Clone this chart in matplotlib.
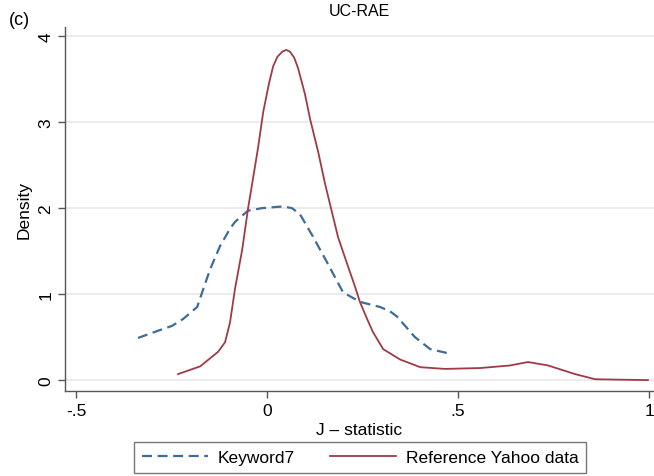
import numpy as np
import matplotlib.pyplot as plt

plt.rcParams['font.family'] = ['Liberation Sans', 'DejaVu Sans']

# density curves
kw_x = [-0.338, -0.288, -0.249, -0.220, -0.183, -0.170, -0.149, -0.123, -0.097, -0.084,
        -0.050, -0.013, 0.042, 0.065, 0.086, 0.120, 0.157, 0.199, 0.243, 0.296,
        0.322, 0.340, 0.387, 0.427, 0.476]
kw_y = [0.49, 0.57, 0.63, 0.71, 0.85, 1.02, 1.29, 1.56, 1.76, 1.84,
        1.97, 2.00, 2.02, 2.00, 1.93, 1.67, 1.37, 1.02, 0.91, 0.85,
        0.80, 0.74, 0.50, 0.36, 0.31]

ref_x = [-0.233, -0.175, -0.128, -0.110, -0.097, -0.084, -0.065, -0.050, -0.024, -0.010,
         0.005, 0.016, 0.027, 0.040, 0.050, 0.060, 0.071, 0.081, 0.099, 0.113,
         0.134, 0.152, 0.170, 0.186, 0.209, 0.230, 0.243, 0.262, 0.277, 0.304,
         0.348, 0.401, 0.466, 0.558, 0.636, 0.683, 0.736, 0.806, 0.859, 0.924, 0.997]
ref_y = [0.07, 0.16, 0.33, 0.44, 0.67, 1.06, 1.52, 1.99, 2.69, 3.12,
         3.45, 3.65, 3.76, 3.82, 3.84, 3.82, 3.75, 3.63, 3.33, 3.03,
         2.65, 2.28, 1.95, 1.66, 1.36, 1.09, 0.91, 0.71, 0.56, 0.36,
         0.24, 0.15, 0.13, 0.14, 0.17, 0.21, 0.17, 0.07, 0.01, 0.005, 0.0]

xticks = [-0.5, 0, 0.5, 1]
xtick_labels = ['-.5', '0', '.5', '1']
yticks = [0, 1, 2, 3, 4]

fig = plt.figure(figsize=(6.54, 4.77), dpi=100)
ax = fig.add_axes([0.0994, 0.178, 0.9006, 0.763])

ax.plot(kw_x, kw_y, color='#3f6c97', lw=1.6, dashes=(4.5, 2.5), label='Keyword7')
ax.plot(ref_x, ref_y, color='#a03a46', lw=1.3, label='Reference Yahoo data')

ax.set_xlim(-0.529, 1.013)
ax.set_ylim(-0.128, 4.105)
ax.set_xticks(xticks)
ax.set_xticklabels(xtick_labels)
ax.set_yticks(yticks)
ax.set_yticklabels([str(v) for v in yticks], rotation=90, va='center')
ax.grid(axis='y', color='#e8e8e8', lw=1.2)
ax.set_axisbelow(True)

for s in ['top', 'right']:
    ax.spines[s].set_visible(False)
for s in ['left', 'bottom']:
    ax.spines[s].set_color('#555555')
    ax.spines[s].set_linewidth(1.0)
ax.tick_params(colors='#555555', labelcolor='black', labelsize=12.5, length=5, width=1)

ax.set_xlabel('J \u2013 statistic', fontsize=12.5, labelpad=3)
ax.set_ylabel('Density', fontsize=12.5, labelpad=5)

fig.text(0.55, 0.975, 'UC-RAE', ha='center', va='center', fontsize=11.5)
fig.text(0.03, 0.957, '(c)', ha='center', va='center', fontsize=13)

leg = fig.legend(loc='upper center', bbox_to_anchor=(0.551, 0.071), ncol=2,
                 fontsize=12.5, frameon=True, fancybox=False, handlelength=3.8,
                 handletextpad=0.57, columnspacing=2.0, borderpad=0.45,
                 borderaxespad=0)
leg.get_frame().set_edgecolor('#555555')
leg.get_frame().set_linewidth(1.0)

fig.savefig('out.png', dpi=100)
